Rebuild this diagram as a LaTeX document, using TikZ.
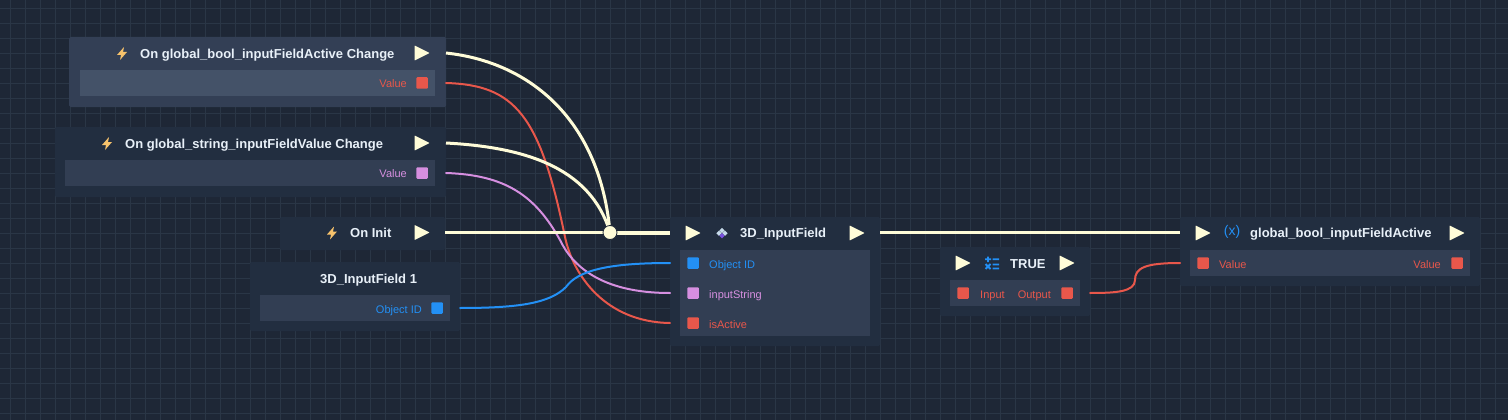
\documentclass[tikz,border=0pt]{standalone}
\usepackage{fontspec}
\setmainfont{Liberation Sans}
\definecolor{bg}{HTML}{1E2736}
\definecolor{gridc}{HTML}{2A3646}
\definecolor{panelA}{HTML}{333F55}
\definecolor{rowA}{HTML}{445268}
\definecolor{panel}{HTML}{222E40}
\definecolor{rowc}{HTML}{323E53}
\definecolor{cream}{HTML}{FFFCD8}
\definecolor{redp}{HTML}{E8574B}
\definecolor{purp}{HTML}{D68FE0}
\definecolor{blup}{HTML}{2390F5}
\definecolor{titlec}{HTML}{E8F0F8}
\definecolor{bolt}{HTML}{F8C36C}
\definecolor{dmnd}{HTML}{C6DAEA}
\definecolor{dmndb}{HTML}{7A50E0}
\tikzset{
  x=1pt,y=-1pt,
  nbox/.style={anchor=north west,inner sep=0pt,outer sep=0pt,draw=none,fill=panel,rounded corners=1.5pt},
  nrow/.style={anchor=north west,inner sep=0pt,outer sep=0pt,draw=none,fill=rowc},
  sock/.style={inner sep=0pt,outer sep=0pt,minimum size=11.5pt,rounded corners=1pt,fill=#1},
  ttl/.style={inner sep=0pt,font=\fontsize{13}{15}\selectfont\bfseries,text=titlec,anchor=base west},
  lbl/.style={inner sep=0pt,font=\fontsize{11}{13}\selectfont,text=#1},
  lblr/.style={lbl=#1,anchor=base east},
  lbll/.style={lbl=#1,anchor=base west},
  exec/.style={line width=3pt,draw=cream},
  wire/.style={line width=2pt,draw=#1,line cap=round},
}
\newcommand{\playtri}[2]{\fill[cream,rounded corners=.5pt] (#1-7.5,#2-7.5) -- (#1+7.5,#2) -- (#1-7.5,#2+7.5) -- cycle;}
\newcommand{\boltic}[2]{\fill[bolt] (#1+2,#2-6.5) -- (#1-5,#2+1.5) -- (#1-1,#2+1.5) -- (#1-2,#2+6.5) -- (#1+5,#2-1.5) -- (#1+1,#2-1.5) -- cycle;}
\newcommand{\dmd}[3]{\fill[#3] (#1,#2-2.6) -- (#1+2.6,#2) -- (#1,#2+2.6) -- (#1-2.6,#2) -- cycle;}
\begin{document}
\begin{tikzpicture}
\useasboundingbox (0,0) rectangle (1508,420);
\fill[bg] (0,0) rectangle (1508,420);
% grid
\foreach \gx in {10.5,25.5,...,1508} \draw[gridc,line width=1pt] (\gx,0) -- (\gx,420);
\foreach \gy in {8.5,23.5,...,420} \draw[gridc,line width=1pt] (0,\gy) -- (1508,\gy);

% panels
\node[nbox,fill=panelA,minimum width=377pt,minimum height=70pt] (a) at (69,37) {};
\node[nrow,fill=rowA,minimum width=355pt,minimum height=26pt] (arow) at (80,70) {};
\node[nbox,minimum width=391pt,minimum height=70pt] (b) at (55,127) {};
\node[nrow,minimum width=370pt,minimum height=26pt] (brow) at (65,160) {};
\node[nbox,minimum width=165pt,minimum height=33pt] (c) at (280,217) {};
\node[nbox,minimum width=210pt,minimum height=69pt] (d) at (250,262) {};
\node[nrow,minimum width=190pt,minimum height=26pt] (drow) at (260,295) {};
\node[nbox,minimum width=210pt,minimum height=129pt] (e) at (670,217) {};
\node[nrow,minimum width=190pt,minimum height=86pt] (erow) at (680,250) {};
\node[nbox,minimum width=150pt,minimum height=69pt] (f) at (940,247) {};
\node[nrow,minimum width=130pt,minimum height=26pt] (frow) at (950,280) {};
\node[nbox,minimum width=300pt,minimum height=69pt] (g) at (1180,217) {};
\node[nrow,minimum width=280pt,minimum height=26pt] (grow) at (1190,250) {};

% sockets
\node[sock=redp] (aval) at (422,83) {};
\node[sock=purp] (bval) at (422,173) {};
\node[sock=blup] (dval) at (437,308) {};
\node[sock=blup] (eid) at (693,263) {};
\node[sock=purp] (estr) at (693,293) {};
\node[sock=redp] (eact) at (693,323) {};
\node[sock=redp] (fin) at (963,293) {};
\node[sock=redp] (fout) at (1067,293) {};
\node[sock=redp] (gin) at (1203,263) {};
\node[sock=redp] (gout) at (1457,263) {};

% exec triangles
\playtri{422}{53} \playtri{422}{143} \playtri{422}{232.5}
\playtri{693}{233} \playtri{857}{233}
\playtri{963}{263} \playtri{1067}{263}
\playtri{1203}{233} \playtri{1457}{233}
\coordinate (aexec) at (422,53);
\coordinate (bexec) at (422,143);
\coordinate (cexec) at (422,232.5);
\coordinate (eexec) at (693,232.5);
\coordinate (gexec) at (1203,232.5);

% titles
\boltic{122}{53.5} \node[ttl] (ta) at (140,58.5) {On global\_bool\_inputFieldActive Change};
\boltic{107}{143.5} \node[ttl] (tb) at (125,148.5) {On global\_string\_inputFieldValue Change};
\boltic{332}{233} \node[ttl] (tc) at (350,237.5) {On Init};
\node[ttl] (td) at (320,283.5) {3D\_InputField 1};
\node[ttl] (te) at (740,237.5) {3D\_InputField};
\node[ttl] (tf) at (1010,268.5) {TRUE};
\node[ttl] (tg) at (1250,237.5) {global\_bool\_inputFieldActive};

% icons
\dmd{722}{230.5}{dmnd} \dmd{719}{233.2}{dmnd} \dmd{725}{233.2}{dmnd} \dmd{722}{235.7}{dmndb}
\node[inner sep=0pt,text=blup,font=\fontsize{14}{16}\selectfont] (ix) at (1232,232) {(x)};
\begin{scope}[blup,line width=1.8pt]
\draw (988,256.5) -- (988,262) (985,259.2) -- (991,259.2) (992.5,259.2) -- (999,259.2)
      (992.5,264.5) -- (999,264.5) (992.5,268.5) -- (999,268.5)
      (985.5,264) -- (990.5,269) (990.5,264) -- (985.5,269);
\end{scope}

% labels
\node[lblr=redp] (la) at (407,87.5) {Value};
\node[lblr=purp] (lb) at (407,177.5) {Value};
\node[lblr=blup] (ld) at (422,313) {Object ID};
\node[lbll=blup] (l1) at (709,268) {Object ID};
\node[lbll=purp] (l2) at (709,298) {inputString};
\node[lbll=redp] (l3) at (709,328) {isActive};
\node[lbll=redp] (l4) at (980,298) {Input};
\node[lblr=redp] (l5) at (1051,298) {Output};
\node[lbll=redp] (l6) at (1219,268) {Value};
\node[lblr=redp] (l7) at (1441,268) {Value};

% data wires
\draw[wire=redp] (a.east |- aval) .. controls (515,85) and (540,115) .. (565,237)
   .. controls (573,275) and (605,322) .. (e.west |- eact);
\draw[wire=purp] (b.east |- bval) .. controls (505,175) and (535,195) .. (560,240)
   .. controls (572,265) and (600,293) .. (e.west |- estr);
\draw[wire=blup] (d.east |- dval) .. controls (520,308) and (550,303) .. (566,287)
   .. controls (578,270) and (610,263) .. (e.west |- eid);
\draw[wire=redp] (f.east |- fout) .. controls (1115,293) and (1135,292) .. (1135,280)
   .. controls (1135,268) and (1145,263) .. (g.west |- gin);

% exec wires
\coordinate (hubc) at (610,232.5);
\draw[exec] (a.east |- aexec) .. controls (530,62) and (600,120) .. (hubc);
\draw[exec] (b.east |- bexec) .. controls (520,147) and (590,165) .. (hubc);
\draw[exec] (c.east |- cexec) -- (hubc);
\draw[exec,line width=4pt] (hubc) -- (e.west |- eexec);
\draw[exec] (e.east |- gexec) -- (g.west |- gexec);
\node[circle,fill=cream,draw=bg,line width=.8pt,inner sep=0pt,minimum size=14pt] (hub) at (hubc) {};
\end{tikzpicture}
\end{document}
